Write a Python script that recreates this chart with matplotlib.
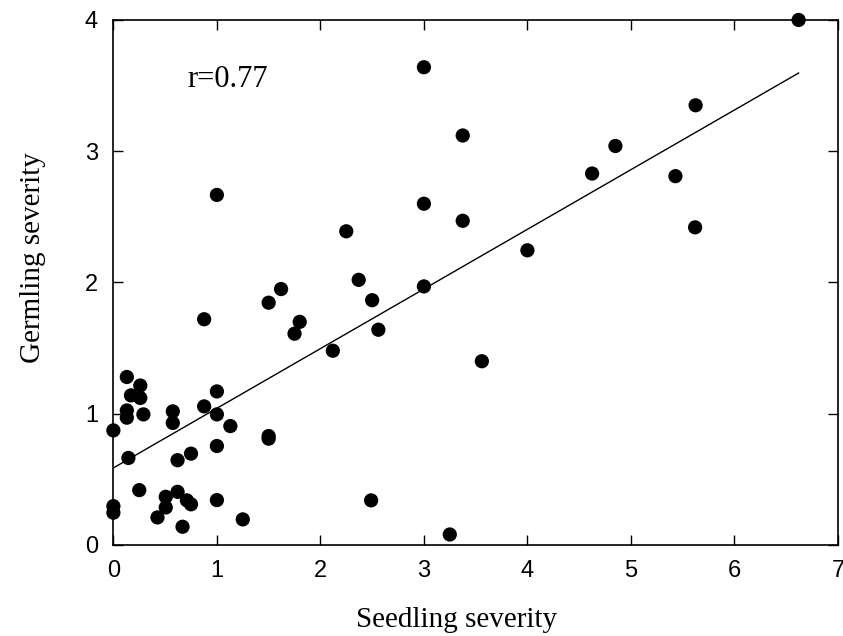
import numpy as np
import matplotlib
matplotlib.use("Agg")
import matplotlib.pyplot as plt

# Seedling vs germling severity
seedling = [0.13, 0.26, 0.17, 0.26, 1.00, 0.13, 0.13, 0.29, 0.574, 0.574,
            0.877, 1.00, 1.13, 0.00, 1.50, 1.50, 1.00, 0.75, 0.62, 0.145,
            0.25, 0.62, 0.506, 0.71, 0.75, 0.506, 1.00, 0.426, 0.668, 1.25,
            0.00, 0.00,
            1.00, 1.62, 1.50, 0.877, 1.80, 1.75,
            3.00, 3.375, 3.00, 3.375, 2.25, 4.00, 2.37, 3.00, 2.50, 2.56,
            2.12, 3.56, 2.49, 3.25,
            6.62, 5.625, 4.85, 4.625, 5.43, 5.62]
germling = [1.28, 1.215, 1.14, 1.12, 1.17, 1.025, 0.97, 0.995, 1.018, 0.93,
            1.056, 0.995, 0.906, 0.873, 0.83, 0.81, 0.754, 0.696, 0.646, 0.663,
            0.418, 0.405, 0.367, 0.34, 0.31, 0.286, 0.342, 0.21, 0.139, 0.195,
            0.296, 0.246,
            2.667, 1.95, 1.846, 1.72, 1.70, 1.61,
            3.64, 3.12, 2.60, 2.47, 2.39, 2.245, 2.02, 1.97, 1.865, 1.64,
            1.48, 1.40, 0.34, 0.08,
            4.00, 3.35, 3.04, 2.83, 2.81, 2.42]

# regression line as drawn
fit_intercept = 0.587
fit_slope = 0.4545
fit_xrange = [0.0, 6.62]
r_value = 0.77

xticks = [0, 1, 2, 3, 4, 5, 6, 7]
yticks = [0, 1, 2, 3, 4]

fig = plt.figure(figsize=(8.43, 6.36), dpi=100)
ax = fig.add_axes([0.1345, 0.1431, 0.8595, 0.8255])

ax.scatter(seedling, germling, s=105, color="black", edgecolors="none",
           clip_on=False, zorder=3)

lx = np.array(fit_xrange)
ax.plot(lx, fit_intercept + fit_slope * lx, color="black", lw=1.0, zorder=2)

ax.set_xlim(0, 7)
ax.set_ylim(0, 4)
ax.set_xticks(xticks)
ax.set_yticks(yticks)

tick_font = {"family": "Liberation Sans", "size": 17}
ax.set_xticklabels([str(t) for t in xticks], fontdict=tick_font)
ax.set_yticklabels([str(t) for t in yticks], fontdict=tick_font)
ax.tick_params(direction="in", length=7, width=1.0, top=True, right=True,
               pad=11, colors="black")
for s in ax.spines.values():
    s.set_linewidth(1.2)

label_font = {"family": "Liberation Serif", "size": 21}
ax.set_xlabel("Seedling severity", fontdict=label_font)
ax.set_ylabel("Germling severity", fontdict=label_font)
ax.xaxis.label.set_va("center")
ax.yaxis.label.set_va("center")
ax.xaxis.set_label_coords(0.474, -0.143)
ax.yaxis.set_label_coords(-0.111, 0.547)

ax.text(0.158, 0.886, f"r={r_value:.2f}", transform=ax.transAxes,
        ha="center", va="center", family="Liberation Serif", fontsize=22)

fig.savefig("out.png", dpi=100)
